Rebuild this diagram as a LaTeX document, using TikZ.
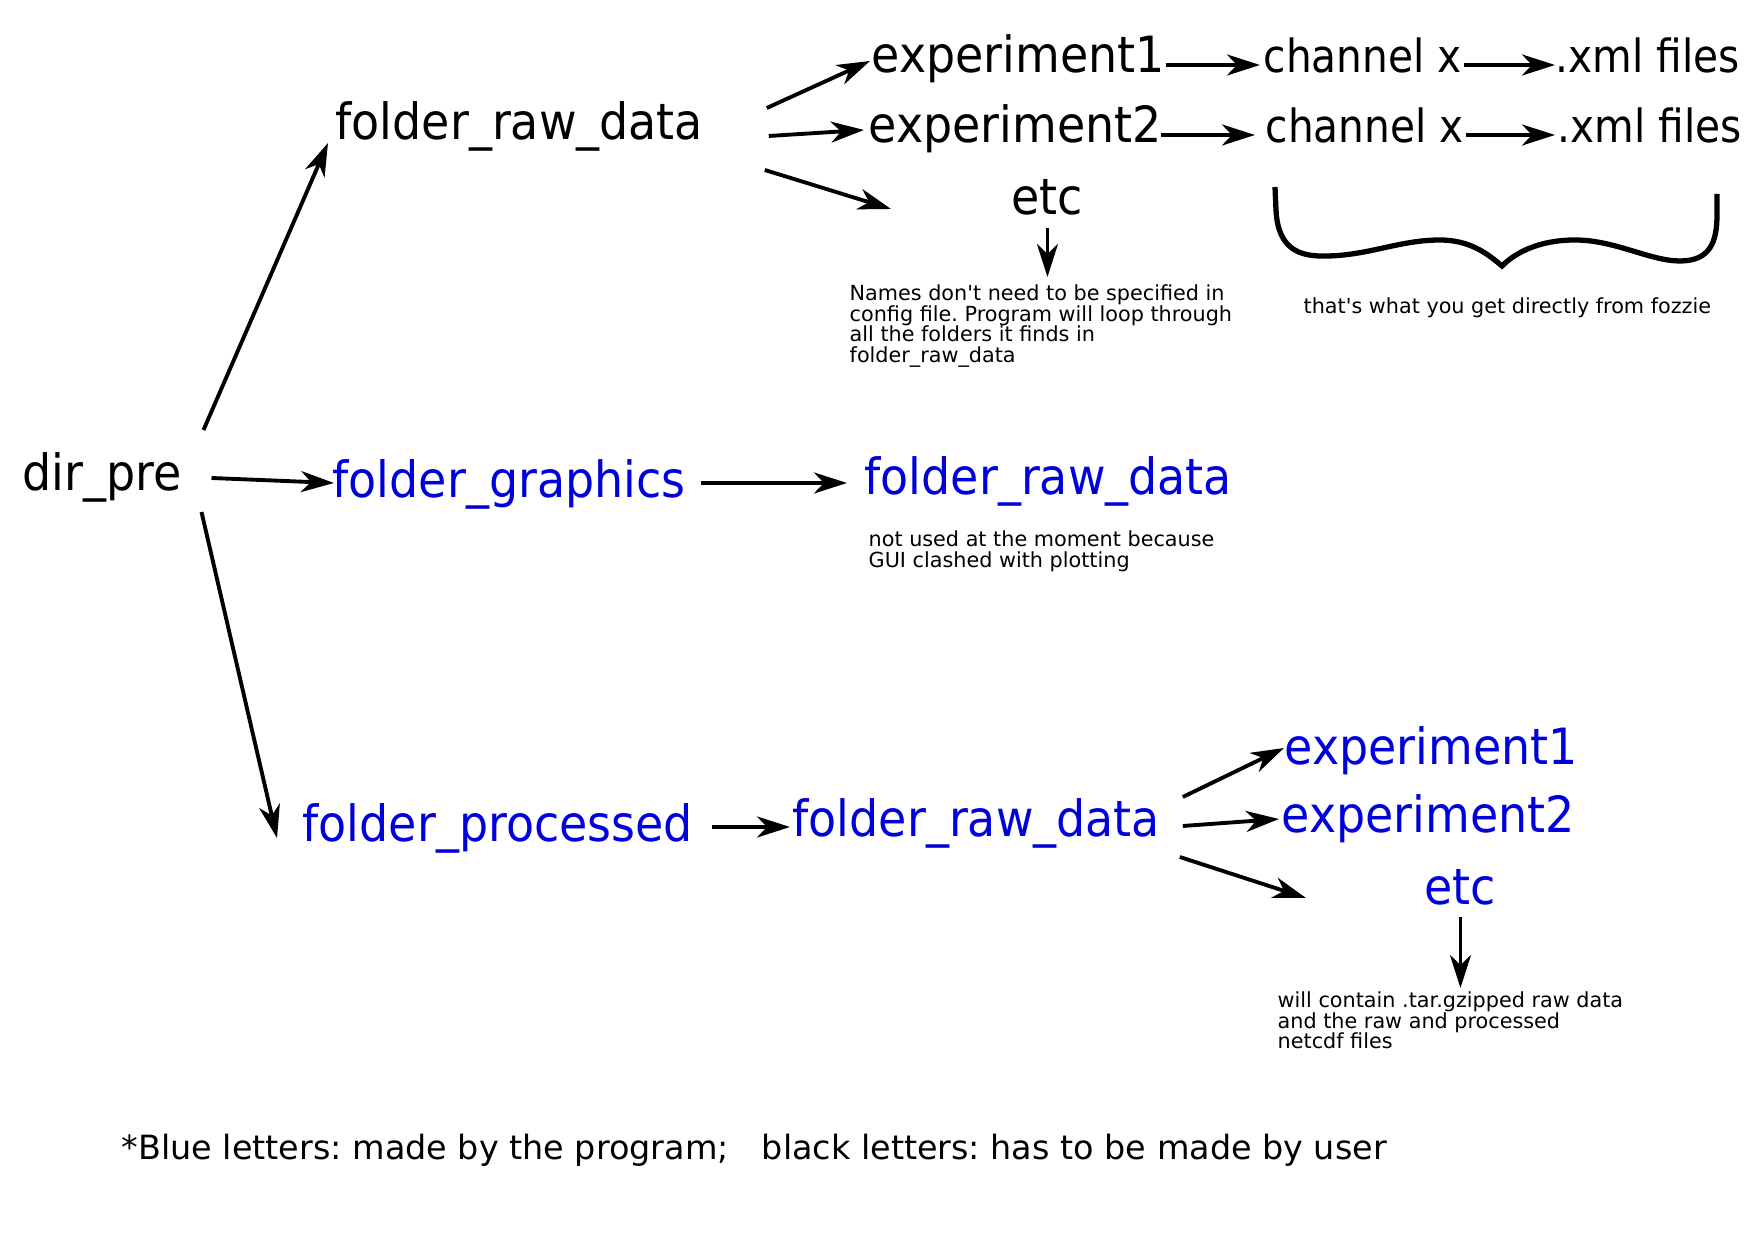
\documentclass[tikz,border=0pt]{standalone}
\usepackage{fontspec}
\setmainfont{DejaVu Sans}
\newfontfamily\narrowfam{DejaVu Sans}[FakeStretch=0.92]
\newfontfamily\chfam{DejaVu Sans}[FakeStretch=0.89]
\usetikzlibrary{arrows.meta,calc}
\definecolor{progblue}{RGB}{0,0,220}
\frenchspacing

\begin{document}
\begin{tikzpicture}[x=0.01cm,y=-0.01cm,
  >={Stealth[length=0.33cm,width=0.21cm,inset=0.1cm]},
  usr/.style={inner sep=0pt,anchor=base west,font=\narrowfam\fontsize{14.2}{17}\selectfont},
  prg/.style={usr,text=progblue},
  chn/.style={usr,font=\chfam\fontsize{13}{16}\selectfont},
  nt/.style={inner sep=0pt,anchor=north west,align=left,font=\fontsize{5.9}{5.9}\selectfont},
  ar/.style={->,line width=1.1pt}]
\useasboundingbox (0,0) rectangle (1753,1240);

% made by the user
\node[usr] (dirpre) at (22,491) {dir\_pre};
\node[usr] (rawA) at (335,140) {folder\_raw\_data};
\node[usr] (expA1) at (871,73) {experiment1};
\node[usr] (expA2) at (868,143) {experiment2};
\node[usr] (etcA) at (1011,215) {etc};
\node[chn] (chA1) at (1263,73) {channel x};
\node[chn] (chA2) at (1265,143) {channel x};
\node[chn] (xmlA1) at (1555,73) {.xml files};
\node[chn] (xmlA2) at (1557,143) {.xml files};

% made by the program
\node[prg] (graph) at (332,498) {folder\_graphics};
\node[prg] (rawM) at (864,495) {folder\_raw\_data};
\node[prg] (proc) at (302,842) {folder\_processed};
\node[prg] (rawB) at (792,837) {folder\_raw\_data};
\node[prg] (expB1) at (1284,765) {experiment1};
\node[prg] (expB2) at (1281,833) {experiment2};
\node[prg] (etcB) at (1424,905) {etc};

% notes
\node[nt] (noteA) at (849,284) {Names don\textquotesingle t need to be specified in\\config file. Program will loop through\\all the folders it finds in\\folder\_raw\_data};
\node[nt,anchor=base west] (noteF) at (1303,314) {that\textquotesingle s what you get directly from fozzie};
\node[nt] (noteM) at (868,530) {not used at the moment because\\GUI clashed with plotting};
\node[nt] (noteB) at (1277,991) {will contain .tar.gzipped raw data\\and the raw and processed\\netcdf files};
\node[anchor=base west,inner sep=0pt,font=\fontsize{9.5}{11}\selectfont] (legend) at (121,1160)
  {*Blue letters: made by the program;\hspace{0.33cm}black letters: has to be made by user};

% arrows
\draw[ar] ($(dirpre.base east)+(21,-61)$) -- ($(rawA.base west)+(-7,3)$);
\draw[ar] ($(dirpre.base east)+(29,-13)$) -- ($(graph.base west)+(2,-15)$);
\draw[ar] ($(dirpre.base east)+(19,21)$) -- ($(proc.base west)+(-25,-4)$);
\draw[ar] ($(rawA.base east)+(63,-32)$) -- ($(expA1.base west)+(-1,-12)$);
\draw[ar] ($(rawA.base east)+(65,-4)$) -- ($(expA2.base west)+(-4,-13)$);
\draw[ar] ($(rawA.base east)+(61,30)$) -- ($(etcA.base west)+(-120,-6)$);
\draw[ar] ($(expA1.base east)+(0,-8)$) -- ($(chA1.base west)+(-3,-8)$);
\draw[ar] ($(expA2.base east)+(-2,-8)$) -- ($(chA2.base west)+(-10,-8)$);
\draw[ar] ($(chA1.base east)+(2,-8)$) -- ($(xmlA1.base west)+(0,-8)$);
\draw[ar] ($(chA2.base east)+(2,-8)$) -- ($(xmlA2.base west)+(-2,-8)$);
\draw[ar] ($(graph.base east)+(15,-15)$) -- ($(rawM.base west)+(-17,-12)$);
\draw[ar] ($(proc.base east)+(18,-15)$) -- ($(rawB.base west)+(-2,-10)$);
\draw[ar] ($(rawB.base east)+(22,-40)$) -- ($(expB1.base west)+(0,-17)$);
\draw[ar] ($(rawB.base east)+(22,-11)$) -- ($(expB2.base west)+(-2,-14)$);
\draw[ar] ($(rawB.base east)+(19,20)$) -- ($(etcB.base west)+(-118,-7)$);
\draw[ar,shorten <=0.12cm,shorten >=0.07cm] (etcA.south) -- (etcA.south |- noteA.north);
\draw[ar,shorten <=0.11cm,shorten >=0.03cm] (etcB.south) -- (etcB.south |- noteB.north);

% brace under the raw data
\draw[line width=1.5pt] (1275,187) -- (1276,210)
  .. controls (1278,250) and (1300,257) .. (1328,256)
  .. controls (1370,255) and (1400,240) .. (1440,240)
  .. controls (1470,240) and (1488,254) .. (1502,266)
  .. controls (1516,252) and (1540,240) .. (1575,240)
  .. controls (1615,240) and (1650,261) .. (1680,261)
  .. controls (1710,261) and (1717,242) .. (1717,215) -- (1717,194);
\end{tikzpicture}
\end{document}
